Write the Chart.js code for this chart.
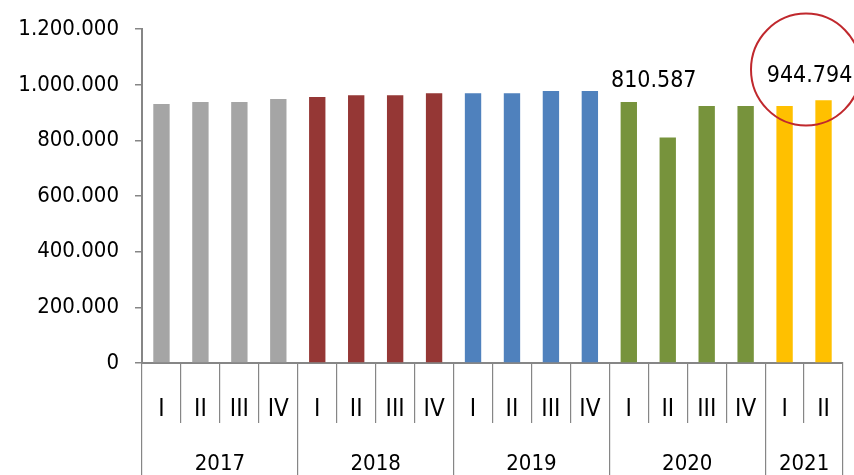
<!DOCTYPE html>
<html>
<head>
<meta charset="utf-8">
<script src="https://cdn.jsdelivr.net/npm/chart.js@4/dist/chart.umd.min.js"></script>
<style>
  html, body { margin: 0; padding: 0; background: #fff; }
  #wrap { width: 854px; height: 475px; }
</style>
</head>
<body>
<div id="wrap"><canvas id="chart"></canvas></div>
<script>
// quarters and values
const quarters = ['I', 'II', 'III', 'IV', 'I', 'II', 'III', 'IV', 'I', 'II', 'III', 'IV', 'I', 'II', 'III', 'IV', 'I', 'II'];
const years = ['2017', '2018', '2019', '2020', '2021'];
const quartersPerYear = [4, 4, 4, 4, 2];
const values = [
  931000, 938000, 938000, 949000,
  956000, 963000, 963000, 970000,
  970000, 970000, 978000, 978000,
  938000, 810587, 924000, 924000,
  924000, 944794
];
const yearColors = ['#a5a5a5', '#953735', '#4f81bd', '#77933c', '#ffc000'];
const labelledBars = [13, 17];

const FONT = "'Liberation Sans Narrow', 'DejaVu Sans Condensed', sans-serif";
const AXIS = '#868686';

// one colour per bar, from its year
const barColors = [];
quartersPerYear.forEach((n, y) => { for (let k = 0; k < n; k++) barColors.push(yearColors[y]); });

// year boundaries and centres on the x scale (index units)
const yearEdges = [-0.5];
const yearMid = {};
quartersPerYear.forEach((n, y) => {
  const start = yearEdges[yearEdges.length - 1];
  yearMid[start + n / 2] = years[y];
  yearEdges.push(start + n);
});
const yearTicks = [...yearEdges, ...Object.keys(yearMid).map(Number)].sort((a, b) => a - b);

function fmt(v) {
  return Math.round(v).toString().replace(/\B(?=(\d{3})+(?!\d))/g, '.');
}

const notes = {
  id: 'notes',
  afterDatasetsDraw(chart) {
    const { ctx, scales } = chart;
    const meta = chart.getDatasetMeta(0);
    const labelPos = { 13: { dx: -14, v: 1013000 }, 17: { dx: -14, v: 1030000 } };
    ctx.save();
    ctx.fillStyle = '#000';
    ctx.font = '23px ' + FONT;
    ctx.textAlign = 'center';
    ctx.textBaseline = 'middle';
    labelledBars.forEach(i => {
      const p = labelPos[i];
      ctx.fillText(fmt(values[i]), meta.data[i].x + p.dx, scales.y.getPixelForValue(p.v));
    });
    // red circle round the latest figure
    const cx = scales.x.getPixelForValue(16.55);
    const cy = scales.y.getPixelForValue(1055000);
    ctx.strokeStyle = '#c0282d';
    ctx.lineWidth = 2;
    ctx.beginPath();
    ctx.ellipse(cx, cy, 55, 56, 0, 0, Math.PI * 2);
    ctx.stroke();
    ctx.restore();
  }
};

new Chart(document.getElementById('chart'), {
  type: 'bar',
  data: {
    labels: quarters,
    datasets: [{
      data: values,
      backgroundColor: barColors,
      barPercentage: 0.42,
      categoryPercentage: 1
    }]
  },
  options: {
    responsive: true,
    maintainAspectRatio: false,
    animation: false,
    layout: { padding: { top: 16, right: 11, left: 0, bottom: 0 } },
    plugins: { legend: { display: false }, tooltip: { enabled: false } },
    scales: {
      y: {
        min: 0, max: 1200000,
        ticks: { stepSize: 200000, color: '#000', font: { family: FONT, size: 22 }, padding: 16, callback: v => fmt(v) },
        grid: { drawOnChartArea: false, tickLength: 7, color: AXIS, lineWidth: 1.5 },
        border: { color: AXIS, width: 2 },
        afterFit: s => { s.width = 142; }
      },
      x: {
        weight: 0,
        grid: { offset: true, drawOnChartArea: false, tickLength: 60, color: AXIS, lineWidth: 1.2 },
        border: { color: AXIS, width: 2 },
        ticks: { color: '#000', font: { family: FONT, size: 24 }, padding: -28, maxRotation: 0, autoSkip: false },
        afterFit: s => { s.height = 60; }
      },
      x2: {
        type: 'linear',
        position: 'bottom',
        weight: 1,
        offset: false,
        min: -0.5, max: 17.5,
        afterBuildTicks: s => { s.ticks = yearTicks.map(v => ({ value: v })); },
        ticks: {
          color: '#000', font: { family: FONT, size: 22 }, padding: -24, maxRotation: 0, autoSkip: false,
          callback: v => yearMid[v] || ''
        },
        grid: {
          offset: false, drawOnChartArea: false, tickLength: 52, lineWidth: 1.2,
          color: c => (c.tick && yearMid[c.tick.value] === undefined) ? AXIS : 'rgba(0,0,0,0)'
        },
        border: { display: false },
        afterFit: s => { s.height = 52; }
      }
    }
  },
  plugins: [notes]
});
</script>
</body>
</html>
